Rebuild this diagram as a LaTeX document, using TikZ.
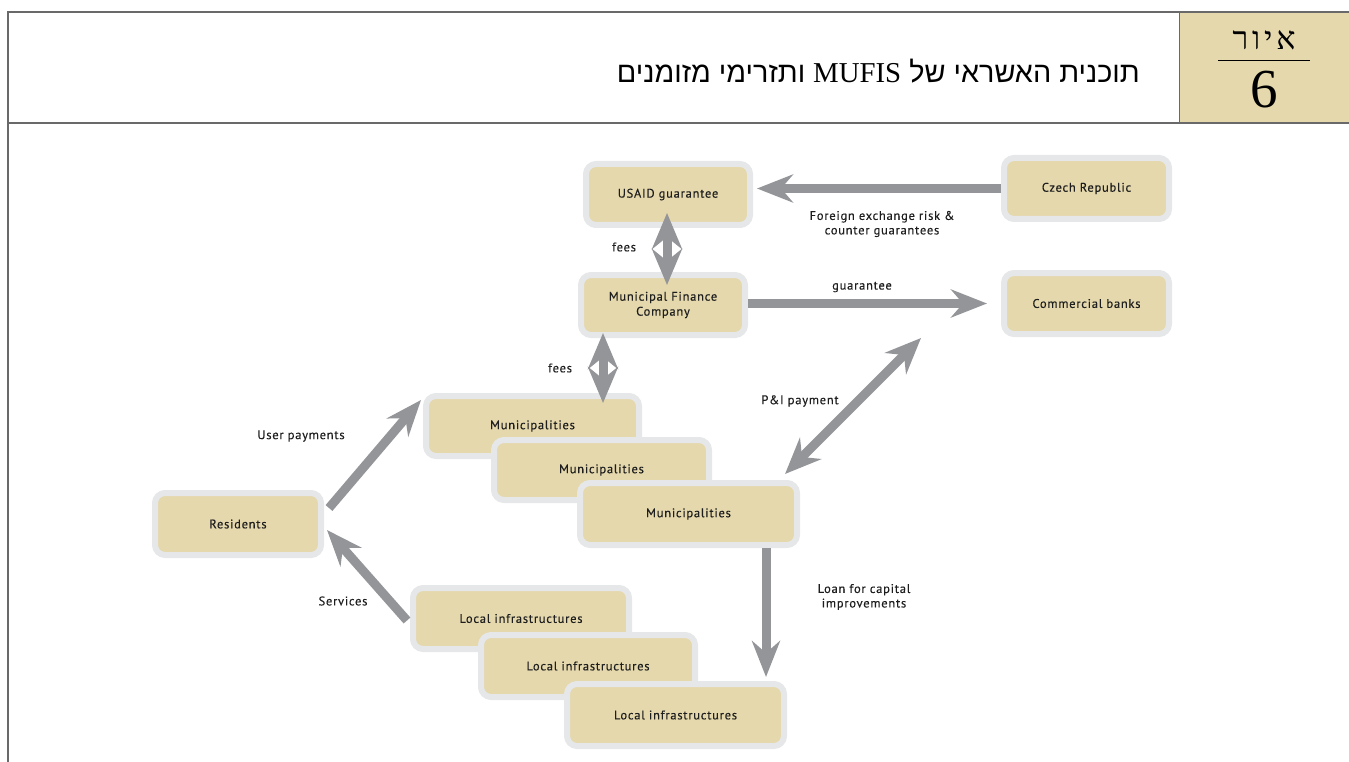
\documentclass[tikz,border=0pt]{standalone}
\usepackage{fontspec}
\usetikzlibrary{arrows.meta,calc}
\TeXXeTstate=1
\newfontfamily\hebfont[Script=Hebrew]{Liberation Serif}
\newfontfamily\hebsans[Script=Hebrew]{Liberation Sans}
\newfontfamily\latserif{Liberation Serif}
\newfontfamily\hebspaced[Script=Hebrew,LetterSpace=12]{Liberation Serif}
\newfontfamily\labfont[LetterSpace=6,FakeBold=0.3]{PT Sans}
\definecolor{beige}{RGB}{228,216,172}
\definecolor{boxline}{RGB}{230,231,232}
\definecolor{arrgray}{RGB}{147,149,152}
\definecolor{framecol}{RGB}{105,105,105}
\definecolor{txt}{RGB}{30,30,30}
\begin{document}
\begin{tikzpicture}[x=1pt,y=-1pt,
  box/.style={draw=boxline, line width=6pt, fill=beige, rounded corners=10pt, text=txt,
    font=\labfont\fontsize{12.5}{15}\selectfont, align=center, inner sep=0pt},
  lab/.style={font=\labfont\fontsize{12.5}{14.5}\selectfont, align=center, inner sep=0pt, text=txt},
  arr/.style={draw=arrgray, line width=9pt, -{Stealth[length=36pt,width=28pt,inset=12pt]}},
  darr/.style={draw=arrgray, line width=9pt,
    {Stealth[length=36pt,width=30pt,inset=12pt]}-{Stealth[length=36pt,width=30pt,inset=12pt]}},
]
\useasboundingbox (0,0) rectangle (1349,762);
% header
\fill[beige] (1179,12) rectangle (1349,123);
\draw[framecol, line width=1.5pt] (8,762) -- (8,12) -- (1349,12);
\draw[framecol, line width=1pt] (1179,12) -- (1179,123);
\draw[framecol, line width=2.7pt] (8,123) -- (1349,123);
\node[anchor=base east, inner sep=0pt] (title) at (1140,83)
  {\hebsans\fontsize{28.8}{31}\selectfont\beginR תוכנית האשראי של \beginL{\latserif MUFIS}\endL{} ותזרימי מזומנים\endR};
\node[anchor=base, inner sep=0pt] (figword) at (1264,50)
  {\hebspaced\fontsize{32}{32}\selectfont\beginR איור\endR};
\draw[black, line width=1pt] (1218,61) -- (1310,61);
\node[anchor=base, inner sep=0pt] (fignum) at (1264,108)
  {\hebfont\fontsize{55}{55}\selectfont 6};

% boxes
\node[box, minimum width=164pt, minimum height=61pt] (usaid) at (668,194.5) {USAID guarantee};
\node[box, minimum width=165pt, minimum height=61pt] (czech) at (1086.5,188.5) {Czech Republic};
\node[box, minimum width=164pt, minimum height=60pt] (mfc) at (663,305) {Municipal Finance\\Company};
\node[box, minimum width=165pt, minimum height=61pt] (banks) at (1086.5,303.5) {Commercial banks};
\node[box, minimum width=213pt, minimum height=60pt] (mun1) at (532.5,426) {Municipalities};
\node[box, minimum width=215pt, minimum height=60pt] (mun2) at (601.5,470) {Municipalities};
\node[box, minimum width=217pt, minimum height=62pt] (mun3) at (688.5,514) {Municipalities};
\node[box, minimum width=166pt, minimum height=62pt] (res) at (238,524) {Residents};
\node[box, minimum width=216pt, minimum height=61pt] (li1) at (521,618.5) {Local infrastructures};
\node[box, minimum width=214pt, minimum height=62pt] (li2) at (588,666) {Local infrastructures};
\node[box, minimum width=217pt, minimum height=62pt] (li3) at (675.5,715) {Local infrastructures};

% arrows
\draw[arr, shorten >=4pt] (czech.west) -- (czech.west -| usaid.east);
\draw[darr, shorten <=-15pt, shorten >=-13pt] ([xshift=-1pt]usaid.south) -- ([xshift=-1pt]usaid.south |- mfc.north);
\draw[arr, shorten >=14pt] (mfc.east |- banks.west) -- (banks.west);
\draw[darr, shorten <=-5pt, shorten >=-10pt] ([xshift=-60pt]mfc.south) -- ([xshift=-60pt]mfc.south |- mun1.north);
\draw[darr] ([xshift=-80pt,yshift=-1pt]banks.south west) -- ([xshift=-15pt,yshift=6pt]mun3.north east);
\draw[arr] ([xshift=5pt,yshift=16pt]res.east) -- ([xshift=-2pt,yshift=26pt]mun1.west);
\draw[arr] ([xshift=-3pt,yshift=-2pt]li1.west) -- ([xshift=3pt,yshift=-6pt]res.east);
\draw[arr, shorten >=4pt] ([xshift=77.5pt]mun3.south) -- ([xshift=77.5pt]mun3.south |- li3.north);

% labels
\node[lab] (lfx) at (882,224) {Foreign exchange risk \&\\counter guarantees};
\node[lab] (lfees1) at (624,247) {fees};
\node[lab] (lguar) at (862,287) {guarantee};
\node[lab] (lfees2) at (560,368) {fees};
\node[lab] (lpi) at (800,401) {P\&I payment};
\node[lab] (luser) at (301,436) {User payments};
\node[lab] (lserv) at (343,601) {Services};
\node[lab] (lloan) at (864,597) {Loan for capital\\improvements};
\end{tikzpicture}
\end{document}
